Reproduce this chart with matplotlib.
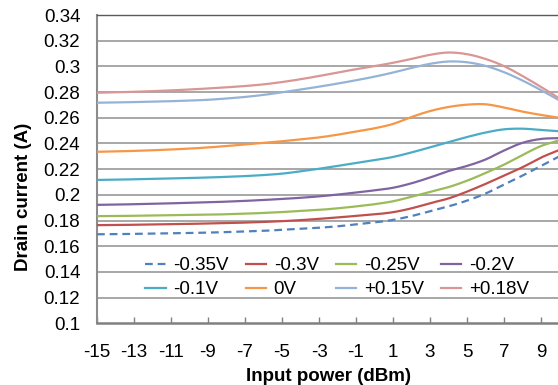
import matplotlib
matplotlib.use("Agg")
import matplotlib.pyplot as plt
import numpy as np

plt.rcParams['font.family'] = ['Liberation Sans', 'DejaVu Sans']

# Input power sweep (dBm)
power = list(range(-15, 11))

# Drain current (A) for each gate bias
i_m035 = [0.1693, 0.1694, 0.1696, 0.1698, 0.1700, 0.1703, 0.1706, 0.1710, 0.1715, 0.1720,
          0.1728, 0.1736, 0.1744, 0.1755, 0.1770, 0.1785, 0.1805, 0.1835, 0.1872, 0.1910,
          0.1955, 0.2010, 0.2080, 0.2150, 0.2225, 0.2300]
i_m030 = [0.1764, 0.1765, 0.1767, 0.1769, 0.1771, 0.1774, 0.1777, 0.1780, 0.1784, 0.1789,
          0.1795, 0.1803, 0.1813, 0.1824, 0.1836, 0.1848, 0.1865, 0.1895, 0.1935, 0.1972,
          0.2025, 0.2085, 0.2150, 0.2215, 0.2290, 0.2350]
i_m025 = [0.1834, 0.1835, 0.1837, 0.1839, 0.1841, 0.1843, 0.1845, 0.1849, 0.1853, 0.1859,
          0.1866, 0.1875, 0.1883, 0.1895, 0.1910, 0.1927, 0.1950, 0.1985, 0.2022, 0.2060,
          0.2110, 0.2170, 0.2235, 0.2310, 0.2380, 0.2425]
i_m020 = [0.1922, 0.1924, 0.1927, 0.1930, 0.1934, 0.1938, 0.1942, 0.1947, 0.1953, 0.1960,
          0.1968, 0.1977, 0.1988, 0.2002, 0.2018, 0.2035, 0.2055, 0.2090, 0.2135, 0.2185,
          0.2225, 0.2275, 0.2345, 0.2405, 0.2435, 0.2442]
i_m010 = [0.2116, 0.2118, 0.2121, 0.2124, 0.2127, 0.2131, 0.2135, 0.2140, 0.2146, 0.2154,
          0.2165, 0.2183, 0.2203, 0.2225, 0.2248, 0.2270, 0.2295, 0.2330, 0.2370, 0.2410,
          0.2450, 0.2485, 0.2510, 0.2515, 0.2505, 0.2495]
i_0 = [0.2335, 0.2338, 0.2342, 0.2347, 0.2353, 0.2360, 0.2369, 0.2380, 0.2392, 0.2404,
       0.2417, 0.2432, 0.2447, 0.2468, 0.2493, 0.2518, 0.2552, 0.2606, 0.2652, 0.2684,
       0.2702, 0.2705, 0.2680, 0.2648, 0.2622, 0.2600]
i_p015 = [0.2717, 0.2719, 0.2722, 0.2725, 0.2729, 0.2734, 0.2740, 0.2750, 0.2762, 0.2778,
          0.2798, 0.2820, 0.2842, 0.2866, 0.2892, 0.2920, 0.2952, 0.2988, 0.3020, 0.3038,
          0.3032, 0.3004, 0.2955, 0.2890, 0.2815, 0.2735]
i_p018 = [0.2795, 0.2798, 0.2802, 0.2807, 0.2813, 0.2820, 0.2828, 0.2837, 0.2847, 0.2860,
          0.2878, 0.2900, 0.2925, 0.2952, 0.2978, 0.3002, 0.3028, 0.3058, 0.3090, 0.3108,
          0.3095, 0.3058, 0.3002, 0.2925, 0.2840, 0.2750]

labels = ['-0.35V', '-0.3V', '-0.25V', '-0.2V', '-0.1V', '0V', '+0.15V', '+0.18V']
series = [i_m035, i_m030, i_m025, i_m020, i_m010, i_0, i_p015, i_p018]
colors = ['#4F81BD', '#C0504D', '#9BBB59', '#8064A2', '#4BACC6', '#F79646', '#95B3D7', '#D99694']

x_ticks = list(range(-15, 10, 2))
y_ticks = [0.1, 0.12, 0.14, 0.16, 0.18, 0.2, 0.22, 0.24, 0.26, 0.28, 0.3, 0.32, 0.34]


def smooth(x, y, n=12):
    """Catmull-Rom spline through the measured points."""
    x = np.asarray(x, float)
    y = np.asarray(y, float)
    px = np.concatenate([[2 * x[0] - x[1]], x, [2 * x[-1] - x[-2]]])
    py = np.concatenate([[2 * y[0] - y[1]], y, [2 * y[-1] - y[-2]]])
    xs, ys = [], []
    t = np.linspace(0, 1, n, endpoint=False)
    for k in range(1, len(px) - 2):
        for arr, out in ((px, xs), (py, ys)):
            p0, p1, p2, p3 = arr[k - 1], arr[k], arr[k + 1], arr[k + 2]
            out.extend(0.5 * ((2 * p1) + (-p0 + p2) * t
                              + (2 * p0 - 5 * p1 + 4 * p2 - p3) * t ** 2
                              + (-p0 + 3 * p1 - 3 * p2 + p3) * t ** 3))
    xs.append(x[-1])
    ys.append(y[-1])
    return np.array(xs), np.array(ys)


fig = plt.figure(figsize=(5.58, 3.85), dpi=100)
ax = fig.add_axes([97 / 558, (385 - 323.3) / 385, 462.5 / 558, 308.3 / 385])

handles = []
for y_vals, lab, col in zip(series, labels, colors):
    sx, sy = smooth(power, y_vals)
    if lab == '-0.35V':
        h, = ax.plot(sx, sy, color=col, lw=1.6, dashes=(3.5, 2.2), label=lab, zorder=3)
    else:
        h, = ax.plot(sx, sy, color=col, lw=1.6, label=lab, zorder=3)
    handles.append(h)

ax.set_xlim(-15, 10)
ax.set_ylim(0.1, 0.34)
ax.set_xticks(x_ticks)
ax.set_xticklabels([str(v) for v in x_ticks])
ax.set_yticks(y_ticks)
ax.set_yticklabels(['%g' % v for v in y_ticks])

for v in y_ticks[1:-1]:
    ax.axhline(v, color='#A0A0A0', lw=1.3, zorder=1)

ax.spines['right'].set_visible(False)
ax.spines['top'].set_color('#5A5A5A')
ax.spines['top'].set_linewidth(1.0)
ax.spines['left'].set_color('#8C8C8C')
ax.spines['left'].set_linewidth(1.5)
ax.spines['bottom'].set_color('#808080')
ax.spines['bottom'].set_linewidth(1.8)

ax.tick_params(axis='y', length=0, pad=12, labelsize=13.5, colors='black')
ax.tick_params(axis='x', direction='in', length=4, width=1, color='#808080',
               pad=15, labelsize=13.5)

ax.set_xlabel('Input power (dBm)', fontsize=13.5, fontweight='bold')
ax.xaxis.set_label_coords(0.5, -0.146)
ax.set_ylabel('Drain current (A)', fontsize=13.5, fontweight='bold')
ax.yaxis.set_label_coords(-0.14, 0.41)

# two rows of four, filled row by row
order = [0, 4, 1, 5, 2, 6, 3, 7]
ax.legend([handles[i] for i in order], [labels[i] for i in order],
          loc='upper left', bbox_to_anchor=(0.104, 0.215), ncol=4, frameon=False,
          fontsize=13.5, borderpad=0, borderaxespad=0, handlelength=1.1,
          handletextpad=0.4, columnspacing=0.9, labelspacing=0.38)

fig.savefig('out.png', dpi=100)
